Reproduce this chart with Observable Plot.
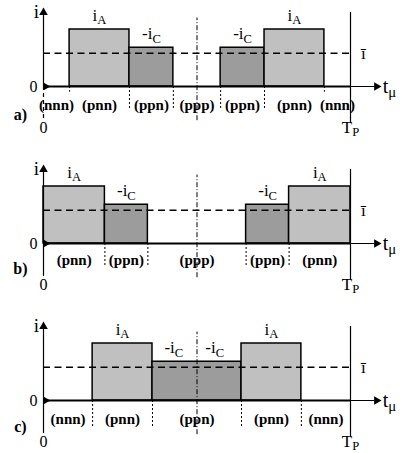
<!DOCTYPE html>
<html>
<head>
<meta charset="utf-8">
<script src="https://cdn.jsdelivr.net/npm/d3@7"></script>
<script src="https://cdn.jsdelivr.net/npm/@observablehq/plot@0.6"></script>
<style>
  body { margin: 0; background: #fff; overflow: hidden; }
  svg { display: block; }
</style>
</head>
<body>
<div id="chart"></div>
<script>
// Current levels (per unit of i_A) and the mean current
const iA = 1;
const iC = 0.68;
const iMean = 0.585;

// Switching instants over one period T_P (fraction of T_P) for each pattern
const boundsA = [0, 0.085, 0.28, 0.423, 0.577, 0.72, 0.915, 1];
const statesA = ["(nnn)", "(pnn)", "(ppn)", "(ppp)", "(ppn)", "(pnn)", "(nnn)"];
const levelsA = ["0", "A", "C", "0", "C", "A", "0"];

const boundsB = [0, 0.2, 0.34, 0.66, 0.8, 1];
const statesB = ["(pnn)", "(ppn)", "(ppp)", "(ppn)", "(pnn)"];
const levelsB = ["A", "C", "0", "C", "A"];

const boundsC = [0, 0.16, 0.355, 0.645, 0.84, 1];
const statesC = ["(nnn)", "(pnn)", "(ppn)", "(pnn)", "(nnn)"];
const levelsC = ["0", "A", "C", "A", "0"];

const panelNames = ["a)", "b)", "c)"];

const levelValue = {"0": 0, "A": iA, "C": iC};
const levelText = {"A": "i_A", "C": "-i_C"};
const levelFill = {"A": "#c0c0c0", "C": "#9c9c9c"};

const serif = '"Liberation Serif", "Times New Roman", serif';

function intervals(bounds, states, levels) {
  return states.map((s, k) => ({
    x1: bounds[k], x2: bounds[k + 1], state: s,
    level: levels[k], v: levelValue[levels[k]]
  }));
}

// Current labels sit on each half of the period
function currentLabels(ivs) {
  const out = [];
  for (const d of ivs) {
    if (d.v === 0) continue;
    if (d.x1 < 0.5 && d.x2 > 0.5) {
      out.push({x: (d.x1 + 0.5) / 2 - 0.003, v: d.v, t: levelText[d.level]});
      out.push({x: (0.5 + d.x2) / 2 - 0.015, v: d.v, t: levelText[d.level]});
    } else {
      out.push({x: (d.x1 + d.x2) / 2, v: d.v, t: levelText[d.level]});
    }
  }
  return out;
}

// Turn "base_sub" text into a base with a lowered subscript
function subscripts(svg) {
  svg.querySelectorAll("text").forEach(t => {
    const s = t.textContent;
    if (!s.includes("_")) return;
    const [base, sub] = s.split("_");
    const fs = parseFloat(getComputedStyle(t).fontSize) || 15;
    t.textContent = "";
    const a = document.createElementNS("http://www.w3.org/2000/svg", "tspan");
    a.textContent = base;
    const b = document.createElementNS("http://www.w3.org/2000/svg", "tspan");
    b.textContent = sub;
    b.setAttribute("font-size", (fs * 0.74).toFixed(1));
    b.setAttribute("dy", (fs * 0.2).toFixed(1));
    t.append(a, b);
  });
}

function panel(k, bounds, states, levels, opts, height) {
  const ivs = intervals(bounds, states, levels);
  const filled = ivs.filter(d => d.v > 0);
  const inner = bounds.slice(1, -1);
  const cuts = inner.map(x => ({x, short: opts.shortCuts.includes(x)}));
  return Plot.plot({
    width: 403,
    height,
    x: {domain: [0, 1], range: [43, 350]},
    y: {domain: [0, 1], range: [86, 29]},
    axis: null,
    style: {fontFamily: serif, color: "black", background: "white"},
    marks: [
      // current pulses
      Plot.rect(filled, {x1: "x1", x2: "x2", y1: 0, y2: "v",
        fill: d => levelFill[d.level], stroke: "black", strokeWidth: 1.5}),
      // mean current
      Plot.ruleY([iMean], {x1: 0, x2: 1, stroke: "black", strokeWidth: 1.5, strokeDasharray: "7,4.5"}),
      // time axis
      Plot.ruleY([0], {x1: 1, x2: 1.08, stroke: "black", strokeWidth: 1}),
      Plot.ruleY([0], {x1: 0, x2: 1, stroke: "black", strokeWidth: 2}),
      Plot.dot([{x: 1.085, y: 0}], {x: "x", y: "y", symbol: "triangle", rotate: 90, r: 3.2, fill: "black"}),
      Plot.dot([{x: 0.008, y: 0}], {x: "x", y: "y", symbol: "triangle", rotate: 90, r: 2.8, fill: "black"}),
      // current axis
      Plot.ruleX([0], {y1: 0, y2: 1.25, stroke: "black", strokeWidth: 1.2}),
      Plot.ruleX([0], {y1: 0, y2: -0.58, stroke: "black", strokeWidth: 1.2,
        strokeDasharray: opts.dashedStem ? "4,3" : null}),
      Plot.dot([{x: 0, y: 1.3}], {x: "x", y: "y", symbol: "triangle", r: 3.2, fill: "black"}),
      // end of period
      Plot.ruleX([1], {y1: -0.65, y2: 1.3, stroke: "black", strokeWidth: 1.2}),
      // half period
      Plot.ruleX([0.5], {y1: -0.6, y2: 1.2, stroke: "black", strokeWidth: 1, strokeDasharray: "5,2,1,2"}),
      // switching instants
      Plot.ruleX(cuts, {x: "x", y1: 0, y2: d => d.short ? -0.1 : -opts.cutDepth,
        stroke: "black", strokeWidth: 1, strokeDasharray: "2,2"}),
      // state labels
      Plot.text(ivs, {x: d => (d.x1 + d.x2) / 2, y: -opts.stateY, text: "state",
        fontWeight: "bold", fontSize: 15, fill: "black"}),
      // current labels
      Plot.text(currentLabels(ivs), {x: "x", y: "v", text: "t", dy: -14, fontSize: 17, fill: "black"}),
      // axis labels
      Plot.text(["i"], {x: 0, y: 1.3, dx: -7, text: d => d, fontSize: 19, fill: "black"}),
      Plot.text(["0"], {x: 0, y: 0, dx: -10, text: d => d, fontSize: 16, fill: "black"}),
      Plot.text(["0"], {x: 0, y: -0.72, text: d => d, fontSize: 16, fill: "black"}),
      Plot.text(["T_P"], {x: 1, y: -0.72, text: d => d, fontSize: 17, fill: "black"}),
      Plot.text(["t_μ"], {x: 1.105, y: 0, textAnchor: "start", text: d => d, fontSize: 20, fill: "black"}),
      Plot.text(["ī"], {x: 1.042, y: iMean, text: d => d, fontSize: 17, fill: "black"}),
      Plot.text([panelNames[k]], {x: -0.075, y: -opts.nameY, text: d => d,
        fontWeight: "bold", fontSize: 16, fill: "black"})
    ]
  });
}

const chart = document.getElementById("chart");
chart.append(
  panel(0, boundsA, statesA, levelsA,
    {shortCuts: [0.085, 0.915], cutDepth: 0.42, stateY: 0.33, nameY: 0.5, dashedStem: true}, 157),
  panel(1, boundsB, statesB, levelsB,
    {shortCuts: [], cutDepth: 0.39, stateY: 0.3, nameY: 0.44, dashedStem: false}, 157),
  panel(2, boundsC, statesC, levelsC,
    {shortCuts: [], cutDepth: 0.47, stateY: 0.32, nameY: 0.47, dashedStem: false}, 139)
);
chart.querySelectorAll("svg").forEach(subscripts);
</script>
</body>
</html>
